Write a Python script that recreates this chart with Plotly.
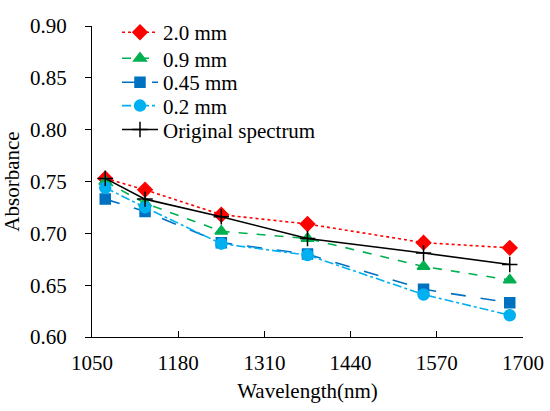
import plotly.graph_objects as go

wavelength = [1070, 1130, 1245, 1375, 1550, 1680]
abs_2_0 = [0.753, 0.742, 0.718, 0.709, 0.691, 0.686]
abs_0_9 = [0.750, 0.729, 0.702, 0.695, 0.668, 0.655]
abs_0_45 = [0.733, 0.721, 0.691, 0.680, 0.646, 0.633]
abs_0_2 = [0.744, 0.725, 0.690, 0.679, 0.641, 0.621]
abs_orig = [0.753, 0.733, 0.716, 0.695, 0.681, 0.670]

x_ticks = [1050, 1180, 1310, 1440, 1570, 1700]
y_ticks = [0.60, 0.65, 0.70, 0.75, 0.80, 0.85, 0.90]

FONT = "Liberation Serif"

series = [
    ("2.0 mm", abs_2_0, "#FF0000", "dot", "diamond", 11),
    ("0.9 mm", abs_0_9, "#00B050", "dash", "triangle-up", 11),
    ("0.45 mm", abs_0_45, "#0070C0", "longdash", "square", 10),
    ("0.2 mm", abs_0_2, "#00B0F0", "dashdot", "circle", 11),
    ("Original spectrum", abs_orig, "#000000", "solid", "cross-thin", 11),
]
legend_y = [0.979, 0.895, 0.818, 0.743, 0.666]

fig = go.Figure()
legend_layout = {}
for i, (name, vals, col, dash, sym, size) in enumerate(series):
    key = "legend" if i == 0 else f"legend{i + 1}"
    fig.add_trace(go.Scatter(
        x=wavelength, y=vals, name=name, mode="lines+markers",
        line=dict(color=col, width=1.6, dash=dash),
        marker=dict(symbol=sym, size=size, color=col,
                    line=dict(color=col, width=1.5)),
        legend=key,
    ))
    legend_layout[key] = dict(
        x=0.058, y=legend_y[i], xanchor="left", yanchor="middle",
        bgcolor="rgba(0,0,0,0)", font=dict(family=FONT, size=21),
        itemwidth=36,
    )

fig.update_layout(
    width=550, height=411,
    margin=dict(l=92, r=27, t=13, b=74),
    paper_bgcolor="white", plot_bgcolor="white",
    font=dict(family=FONT, size=21, color="black"),
    showlegend=True,
    xaxis=dict(range=[1050, 1700], tickvals=x_ticks,
               ticktext=[str(v) for v in x_ticks], automargin=False,
               showgrid=False, zeroline=False, showline=True,
               linecolor="black", linewidth=1.2, ticks="inside",
               ticklen=6, tickcolor="black", ticklabelstandoff=7,
               title=dict(text="Wavelength(nm)", font=dict(family=FONT, size=21), standoff=9),
               tickfont=dict(family=FONT, size=21)),
    yaxis=dict(range=[0.60, 0.90], tickvals=y_ticks,
               ticktext=[f"{v:.2f}" for v in y_ticks], automargin=False,
               showgrid=False, zeroline=False, showline=True,
               linecolor="black", linewidth=1.2, ticks="outside",
               ticklen=6, tickcolor="black", ticklabelstandoff=14,
               title=dict(text="Absorbance", font=dict(family=FONT, size=21), standoff=6),
               tickfont=dict(family=FONT, size=21)),
    **legend_layout,
)

fig.write_html(
    "out.html",
    config={"displayModeBar": False},
    post_script="document.body.style.margin='0';document.body.style.overflow='hidden';",
)
